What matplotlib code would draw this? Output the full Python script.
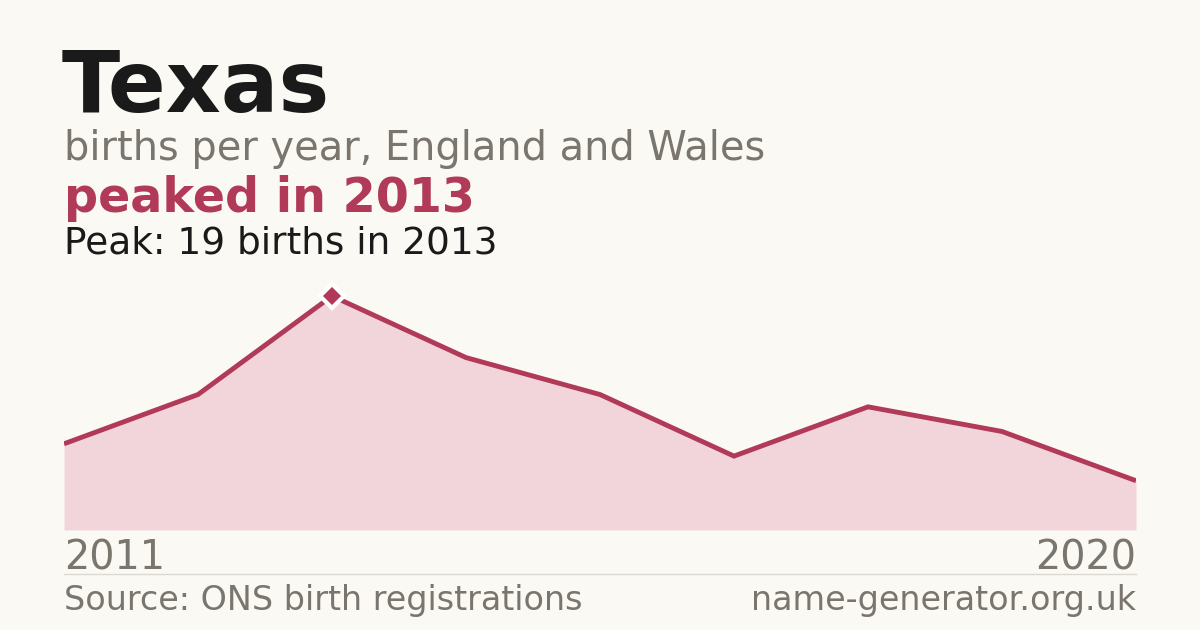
import matplotlib
matplotlib.use("Agg")
import matplotlib.pyplot as plt

# data
years = [2011, 2012, 2013, 2014, 2015, 2016, 2017, 2018, 2020]
births = [7, 11, 19, 14, 11, 6, 10, 8, 4]
name = "Texas"
peak_year = 2013
peak_value = 19

BG = "#faf9f4"
ACCENT = "#b03a57"
FILL = "#f1d5db"
GREY = "#7a756d"
DARK = "#1a1a1a"

W, H = 1200, 630
fig = plt.figure(figsize=(W / 100, H / 100), dpi=100, facecolor=BG)

# plot area in pixels: x 64..1136, y 296..530
x0, x1, ytop, ybot = 64, 1136, 296, 530
ax = fig.add_axes([x0 / W, 1 - ybot / H, (x1 - x0) / W, (ybot - ytop) / H])
ax.set_facecolor(BG)
idx = list(range(len(births)))
ax.fill_between(idx, births, 0, color=FILL, lw=0)
ax.plot(idx, births, color=ACCENT, lw=3.5, solid_joinstyle="miter", solid_capstyle="butt")
pk = births.index(peak_value)
ax.plot([pk], [peak_value], marker="D", ms=12, color=ACCENT, mec="white", mew=3,
        clip_on=False, zorder=5)
ax.set_xlim(0, len(births) - 1)
ax.set_ylim(0, peak_value)
ax.axis("off")

def px(x, y):
    return x / W, 1 - y / H

fig.text(*px(62, 112), name, fontsize=61.5, fontweight="bold", color=DARK, va="baseline")
fig.text(*px(64, 160), "births per year, England and Wales", fontsize=28.7,
         color=GREY, va="baseline")
fig.text(*px(64, 212), f"peaked in {peak_year}", fontsize=34.3, fontweight="bold",
         color=ACCENT, va="baseline")
fig.text(*px(64, 254), f"Peak: {peak_value} births in {peak_year}", fontsize=27,
         color=DARK, va="baseline")
fig.text(*px(64, 569), str(years[0]), fontsize=28.6, color=GREY, va="baseline")
fig.text(*px(1136, 569), str(years[-1]), fontsize=28.6, color=GREY, va="baseline", ha="right")

fig.add_artist(plt.Line2D([x0 / W, x1 / W], [1 - 574 / H] * 2, color="#dcd9d2", lw=1))
fig.text(*px(64, 610), "Source: ONS birth registrations", fontsize=24, color=GREY, va="baseline")
fig.text(*px(1136, 610), "name-generator.org.uk", fontsize=24, color=GREY,
         va="baseline", ha="right")

fig.savefig("out.png", dpi=100, facecolor=BG)
